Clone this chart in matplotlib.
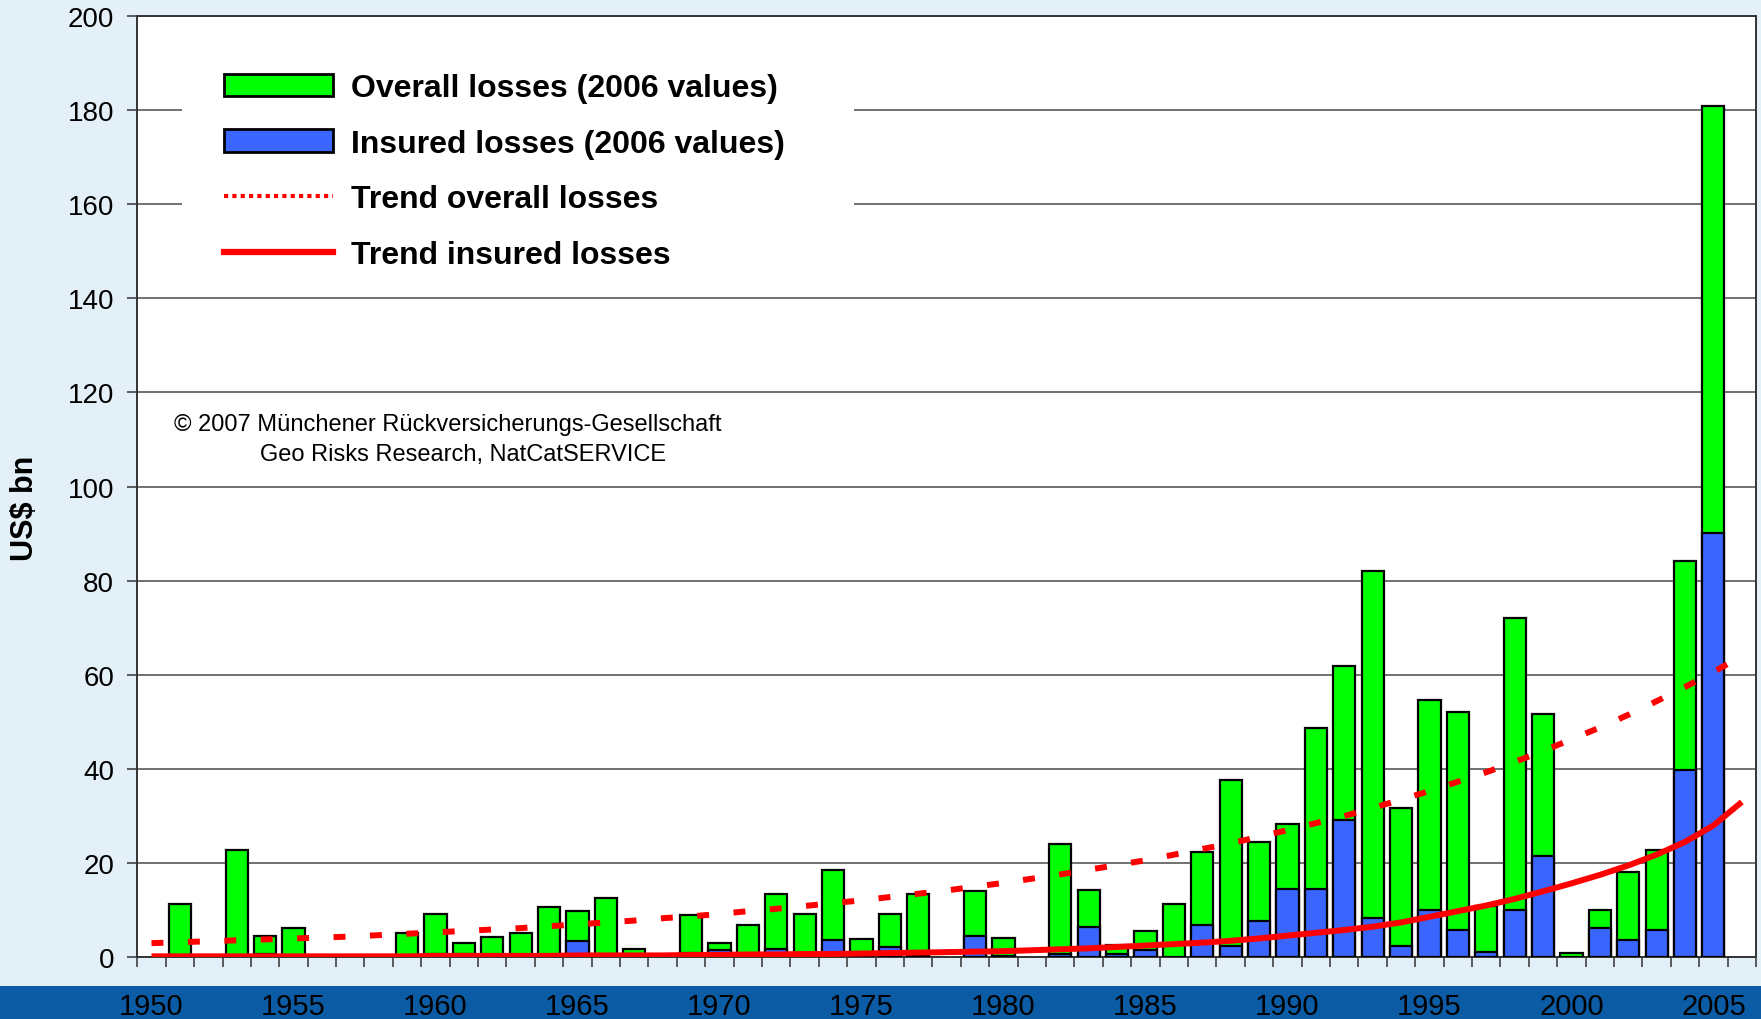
import numpy as np
import matplotlib
matplotlib.use("Agg")
import matplotlib.pyplot as plt
from matplotlib.patches import Patch, Rectangle
from matplotlib.lines import Line2D

plt.rcParams['font.family'] = ['Liberation Sans', 'DejaVu Sans']

# yearly losses, US$ bn (2006 values)
years = list(range(1950, 2006))
overall = [0, 11.4, 0, 22.8, 4.6, 6.3, 0, 0, 0, 5.1,
           9.3, 3.0, 4.3, 5.1, 10.6, 9.8, 12.7, 1.8, 0, 8.9,
           3.0, 6.8, 13.5, 9.3, 18.6, 3.9, 9.3, 13.5, 0, 14.0,
           4.2, 0, 24.1, 14.3, 2.7, 5.5, 11.4, 22.4, 37.6, 24.5,
           28.4, 48.6, 61.8, 82.1, 31.7, 54.6, 52.0, 11.0, 72.0, 51.6,
           0.9, 10.1, 18.2, 22.8, 84.2, 180.9]
insured = [0, 0, 0, 0, 0.7, 0, 0, 0, 0, 0,
           0.7, 0.7, 0, 0, 0, 3.4, 0.5, 0.5, 0, 1.0,
           1.6, 0.3, 1.7, 0.3, 3.7, 0.3, 2.1, 0.3, 0, 4.6,
           0.3, 0, 0.8, 6.4, 0.8, 1.6, 0, 6.8, 2.5, 7.7,
           14.4, 14.4, 29.1, 8.4, 2.5, 10.1, 5.9, 1.1, 10.1, 21.5,
           0, 6.2, 3.7, 5.8, 39.7, 90.1]

# trend curves, read per year (1950-2006)
trend_years = list(range(1950, 2007))
trend_overall = [3.0, 3.2, 3.4, 3.6, 3.8, 4.0, 4.2, 4.4, 4.7, 5.0,
                 5.3, 5.6, 5.9, 6.2, 6.6, 7.0, 7.4, 7.8, 8.3, 8.7,
                 9.2, 9.8, 10.3, 10.9, 11.5, 12.1, 12.8, 13.5, 14.2, 15.0,
                 15.8, 16.7, 17.6, 18.6, 19.6, 20.6, 21.8, 23.0, 24.2, 25.6,
                 27.0, 28.5, 30.0, 31.7, 33.5, 35.3, 37.3, 39.3, 41.5, 43.8,
                 46.3, 48.8, 51.5, 54.4, 57.4, 60.6, 64.0]
trend_insured = [0.2, 0.2, 0.2, 0.2, 0.2, 0.2, 0.2, 0.2, 0.2, 0.2,
                 0.3, 0.3, 0.3, 0.3, 0.3, 0.4, 0.4, 0.4, 0.4, 0.5,
                 0.5, 0.6, 0.6, 0.7, 0.7, 0.8, 0.9, 1.0, 1.1, 1.2,
                 1.3, 1.5, 1.7, 1.9, 2.2, 2.5, 2.8, 3.1, 3.5, 4.0,
                 4.6, 5.2, 5.8, 6.5, 7.4, 8.6, 9.8, 11.0, 12.4, 14.0,
                 15.7, 17.5, 19.5, 21.8, 24.5, 28.0, 33.0]

label_years = list(range(1950, 2006, 5))
y_ticks = list(range(0, 201, 20))

GREEN = '#00ff00'
BLUE = '#3a66ff'
RED = '#ff0000'

fig = plt.figure(figsize=(17.61, 10.20), dpi=100, facecolor='#e3f0f8')
# dark blue band at the bottom
fig.patches.append(Rectangle((0, 0), 1, 0.0324, transform=fig.transFigure,
                             facecolor='#0b5ca4', edgecolor='none', zorder=-10))

ax = fig.add_axes([0.07797, 0.0605, 0.9192, 0.9231])
ax.set_facecolor('white')

yrs = np.array(years)
ov = np.array(overall)
ins = np.array(insured)
m1 = ov > 0
m2 = ins > 0
ax.bar(yrs[m1], ov[m1], width=0.78, color=GREEN, edgecolor='black', linewidth=1.6, zorder=3)
ax.bar(yrs[m2], ins[m2], width=0.78, color=BLUE, edgecolor='black', linewidth=1.6, zorder=4)

ax.plot(trend_years, trend_overall, color=RED, lw=4.3, dashes=(2.0, 4.1), zorder=5)
ax.plot(trend_years, trend_insured, color=RED, lw=4.3, solid_capstyle='butt', zorder=5)

ax.set_xlim(1949.5, 2006.5)
ax.set_ylim(0, 200)
ax.set_yticks(y_ticks)
ax.yaxis.grid(True, color='#4a4a4a', lw=1.1, zorder=1)
ax.set_axisbelow(True)

ax.set_xticks(label_years)
ax.set_xticks(np.arange(1949.5, 2007, 1), minor=True)
ax.tick_params(axis='x', which='major', length=0, pad=25, labelsize=21)
ax.tick_params(axis='x', which='minor', length=7.2, width=1.1, direction='out', color='#333333')
ax.tick_params(axis='y', length=7.2, width=1.1, pad=9.5, labelsize=20, color='#333333')

for s in ax.spines.values():
    s.set_color('#333333')
    s.set_linewidth(1.4)

fig.text(25 / 1761, 0.502, 'US$ bn', rotation=90, ha='center', va='center',
         fontsize=22, fontweight='bold')

# white box behind the legend
ax.add_patch(Rectangle((0.0277, 0.7395), 0.4151, 0.2358, transform=ax.transAxes,
                       facecolor='white', edgecolor='none', zorder=2))

handles = [Patch(facecolor=GREEN, edgecolor='black', linewidth=2),
           Patch(facecolor=BLUE, edgecolor='black', linewidth=2),
           Line2D([], [], color=RED, lw=3, linestyle=(0, (1, 1))),
           Line2D([], [], color=RED, lw=4.5)]
labels = ['Overall losses (2006 values)', 'Insured losses (2006 values)',
          'Trend overall losses', 'Trend insured losses']
leg = ax.legend(handles, labels, loc='upper left', bbox_to_anchor=(0.0536, 0.939),
                frameon=False, borderpad=0, borderaxespad=0, handlelength=3.4,
                handleheight=0.72, handletextpad=0.56, labelspacing=0.8,
                prop={'size': 23, 'weight': 'bold'})
leg.set_zorder(6)

ax.text(0.192, 0.566, '\u00a9 2007 M\u00fcnchener R\u00fcckversicherungs-Gesellschaft',
        transform=ax.transAxes, ha='center', va='center', fontsize=17, zorder=6)
ax.text(0.2015, 0.535, 'Geo Risks Research, NatCatSERVICE',
        transform=ax.transAxes, ha='center', va='center', fontsize=17, zorder=6)

fig.savefig('out.png', dpi=100, facecolor=fig.get_facecolor())
